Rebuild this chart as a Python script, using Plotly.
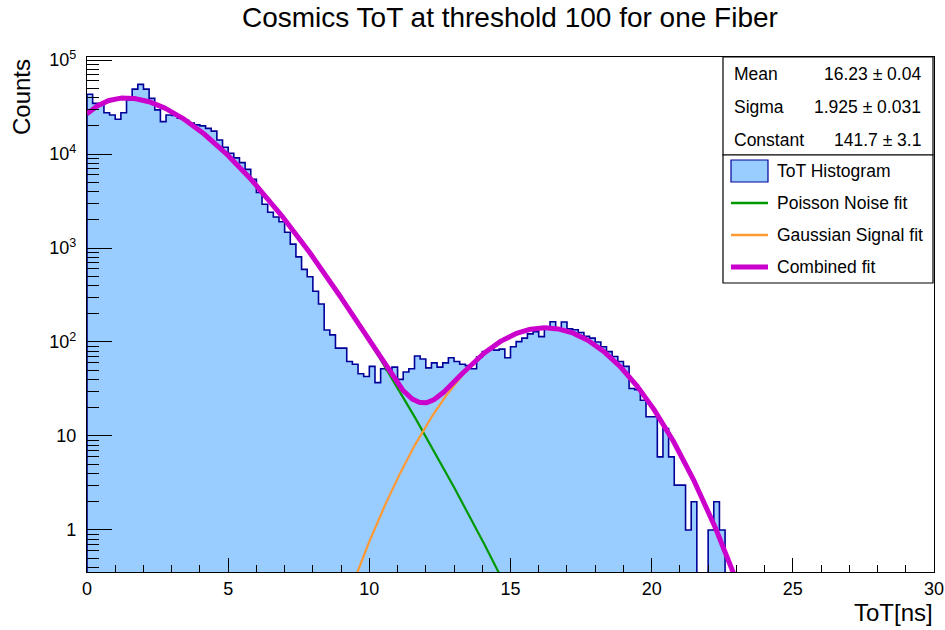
import math
import plotly.graph_objects as go

# ---- data -------------------------------------------------------------
BIN_WIDTH = 0.2          # ns
N_BINS = 150             # 0 .. 30 ns

# ToT histogram counts, one entry per 0.2 ns bin starting at 0 ns
tot_counts = [
    43200, 34600, 34300, 27500, 26000, 23400, 27500, 37500, 49000, 55100,
    49000, 39100, 29500, 22100, 26000, 25700, 24000, 22900, 21400, 20400,
    19900, 18750, 17500, 14100, 11800, 10200, 9100, 8100, 6870, 5370,
    3890, 2920, 2400, 2140, 1900, 1470, 1100, 804, 592, 495,
    347, 254, 134, 119, 86, 86, 62, 58, 46, 43,
    55, 37, 52, 50, 54, 40, 48, 52, 71, 66,
    53, 60, 54, 60, 68, 62, 58, 56, 52, 69,
    79, 84, 82, 84, 68, 89, 101, 110, 122, 129,
    114, 138, 164, 140, 163, 138, 135, 126, 115, 110,
    100, 89, 79, 70, 62, 55, 32, 31, 24, 16,
    16, 6, 12, 6, 3, 3, 1, 2, 0, 0,
    1, 2, 1, 0, 0, 0, 0, 0, 0, 0,
    0, 0, 0, 0, 0, 0, 0, 0, 0, 0,
    0, 0, 0, 0, 0, 0, 0, 0, 0, 0,
    0, 0, 0, 0, 0, 0, 0, 0, 0, 0,
]

# Gaussian signal fit parameters (shown in the stats box)
gaus_mean, gaus_mean_err = 16.23, 0.04
gaus_sigma, gaus_sigma_err = 1.925, 0.031
gaus_const, gaus_const_err = 141.7, 3.1

# Poisson noise fit parameters: norm * lam^(x/scale) e^-lam / Gamma(x/scale + 1)
noise_norm = 117000.0
noise_lambda = 1.477
noise_scale = 1.457

x_ticks = [0, 5, 10, 15, 20, 25, 30]
y_ticks = [1, 10, 100, 1000, 10000, 100000]
y_tick_text = ["1", "10", "10<sup>2</sup>", "10<sup>3</sup>", "10<sup>4</sup>", "10<sup>5</sup>"]

title_text = "Cosmics ToT at threshold 100 for one Fiber"
legend_labels = ["ToT Histogram", "Poisson Noise fit", "Gaussian Signal fit", "Combined fit"]

# ---- styling ----------------------------------------------------------
FONT = "Liberation Sans, Arial, Helvetica, sans-serif"
FILL = "#99ccff"
EDGE = "#000099"
GREEN = "#009900"
ORANGE = "#ff9933"
MAGENTA = "#cc00cc"

W, H = 945, 630
L, R, T, B = 87, 934, 57, 572       # frame in pixels
Y_RANGE = [-0.447, 5.032]
FLOOR = 1e-2                         # below the visible log range


def px(x):
    return (x - L) / (R - L)


def py(y):
    return (B - y) / (B - T)


# ---- fit functions ----------------------------------------------------
def noise(x):
    u = x / noise_scale
    return noise_norm * math.exp(u * math.log(noise_lambda) - noise_lambda - math.lgamma(u + 1))


def signal(x):
    return gaus_const * math.exp(-0.5 * ((x - gaus_mean) / gaus_sigma) ** 2)


xf = [i * 0.02 for i in range(1501)]
noise_y = [noise(x) for x in xf]
signal_y = [signal(x) for x in xf]
combined_y = [a + b for a, b in zip(noise_y, signal_y)]

# ---- histogram step outline ------------------------------------------
edges = [i * BIN_WIDTH for i in range(N_BINS + 1)]
step_x, step_y = [edges[0]], [FLOOR]
for i, c in enumerate(tot_counts):
    v = c if c > 0 else FLOOR
    step_x += [edges[i], edges[i + 1]]
    step_y += [v, v]
step_x.append(edges[-1])
step_y.append(FLOOR)

fig = go.Figure()
fig.add_trace(go.Scatter(x=step_x, y=step_y, mode="lines", fill="toself",
                         fillcolor=FILL, line=dict(width=0), hoverinfo="skip"))
fig.add_trace(go.Scatter(x=step_x, y=step_y, mode="lines",
                         line=dict(color=EDGE, width=1.6)))
fig.add_trace(go.Scatter(x=xf, y=noise_y, mode="lines", line=dict(color=GREEN, width=2.2)))
fig.add_trace(go.Scatter(x=xf, y=signal_y, mode="lines", line=dict(color=ORANGE, width=2.2)))
fig.add_trace(go.Scatter(x=xf, y=combined_y, mode="lines", line=dict(color=MAGENTA, width=5)))

minor_y = [m * 10 ** d for d in range(-1, 6) for m in range(2, 10)]

fig.update_layout(
    width=W, height=H,
    margin=dict(l=L, r=W - R, t=T, b=H - B, autoexpand=False),
    paper_bgcolor="white", plot_bgcolor="white",
    showlegend=False,
    font=dict(family=FONT, color="black"),
    xaxis=dict(range=[0, 30], showgrid=False, zeroline=False, automargin=False,
               showline=True, linecolor="black", linewidth=1.2, mirror=True,
               ticks="inside", tickvals=x_ticks, ticklen=14, tickwidth=1.2, tickcolor="black",
               tickfont=dict(size=18, family=FONT), ticklabelstandoff=0,
               minor=dict(ticks="inside", dtick=1, ticklen=7, tickwidth=1.2,
                          tickcolor="black", showgrid=False)),
    yaxis=dict(type="log", range=Y_RANGE, showgrid=False, zeroline=False, automargin=False,
               showline=True, linecolor="black", linewidth=1.2, mirror=True,
               ticks="inside", tickvals=y_ticks, ticktext=y_tick_text,
               ticklen=25, tickwidth=1.2, tickcolor="black",
               tickfont=dict(size=18, family=FONT), ticklabelstandoff=6,
               minor=dict(ticks="inside", tickvals=minor_y, ticklen=12, tickwidth=1.2,
                          tickcolor="black", showgrid=False)),
)

ann = []
# title and axis titles
ann.append(dict(text=title_text, x=px(510), y=py(17), xref="paper", yref="paper",
                xanchor="center", yanchor="middle", showarrow=False,
                font=dict(size=28, family=FONT)))
ann.append(dict(text="ToT[ns]", x=px(935), y=py(612), xref="paper", yref="paper",
                xanchor="right", yanchor="middle", showarrow=False,
                font=dict(size=24, family=FONT)))
ann.append(dict(text="Counts", x=px(21), y=py(57), xref="paper", yref="paper",
                xanchor="center", yanchor="top", textangle=-90, showarrow=False,
                font=dict(size=24, family=FONT)))

# stats box
BOX_L, BOX_R = 723, 933
STAT_T, STAT_B, LEG_B = 57, 155, 283
shapes = [
    dict(type="rect", xref="paper", yref="paper", x0=px(BOX_L), x1=px(BOX_R),
         y0=py(STAT_B), y1=py(STAT_T), line=dict(color="black", width=1.2), fillcolor="white"),
    dict(type="rect", xref="paper", yref="paper", x0=px(BOX_L), x1=px(BOX_R),
         y0=py(LEG_B), y1=py(STAT_B), line=dict(color="black", width=1.2), fillcolor="white"),
]
stats = [
    ("Mean", f"{gaus_mean:.2f} \u00b1 {gaus_mean_err:.2f}"),
    ("Sigma", f"{gaus_sigma:.3f} \u00b1 {gaus_sigma_err:.3f}"),
    ("Constant", f"{gaus_const:.1f} \u00b1 {gaus_const_err:.1f}"),
]
row_h = (STAT_B - STAT_T) / 3
for k, (name, val) in enumerate(stats):
    yc = STAT_T + row_h * (k + 0.5) + 1
    ann.append(dict(text=name, x=px(732), y=py(yc), xref="paper", yref="paper",
                    xanchor="left", yanchor="middle", showarrow=False,
                    font=dict(size=17.5, family=FONT)))
    ann.append(dict(text=val, x=px(923), y=py(yc), xref="paper", yref="paper",
                    xanchor="right", yanchor="middle", showarrow=False,
                    font=dict(size=17.5, family=FONT)))

# legend entries
leg_h = (LEG_B - STAT_B) / 4
styles = [None, (GREEN, 2.5), (ORANGE, 2.5), (MAGENTA, 5)]
for k, label in enumerate(legend_labels):
    yc = STAT_B + leg_h * (k + 0.5)
    if styles[k] is None:
        shapes.append(dict(type="rect", xref="paper", yref="paper",
                           x0=px(731), x1=px(768), y0=py(yc + 11), y1=py(yc - 11),
                           line=dict(color=EDGE, width=1.2), fillcolor=FILL))
    else:
        col, wd = styles[k]
        shapes.append(dict(type="line", xref="paper", yref="paper",
                           x0=px(731), x1=px(768), y0=py(yc), y1=py(yc),
                           line=dict(color=col, width=wd)))
    ann.append(dict(text=label, x=px(775), y=py(yc), xref="paper", yref="paper",
                    xanchor="left", yanchor="middle", showarrow=False,
                    font=dict(size=17.5, family=FONT)))

fig.update_layout(annotations=ann, shapes=shapes)
fig.write_html("out.html")
